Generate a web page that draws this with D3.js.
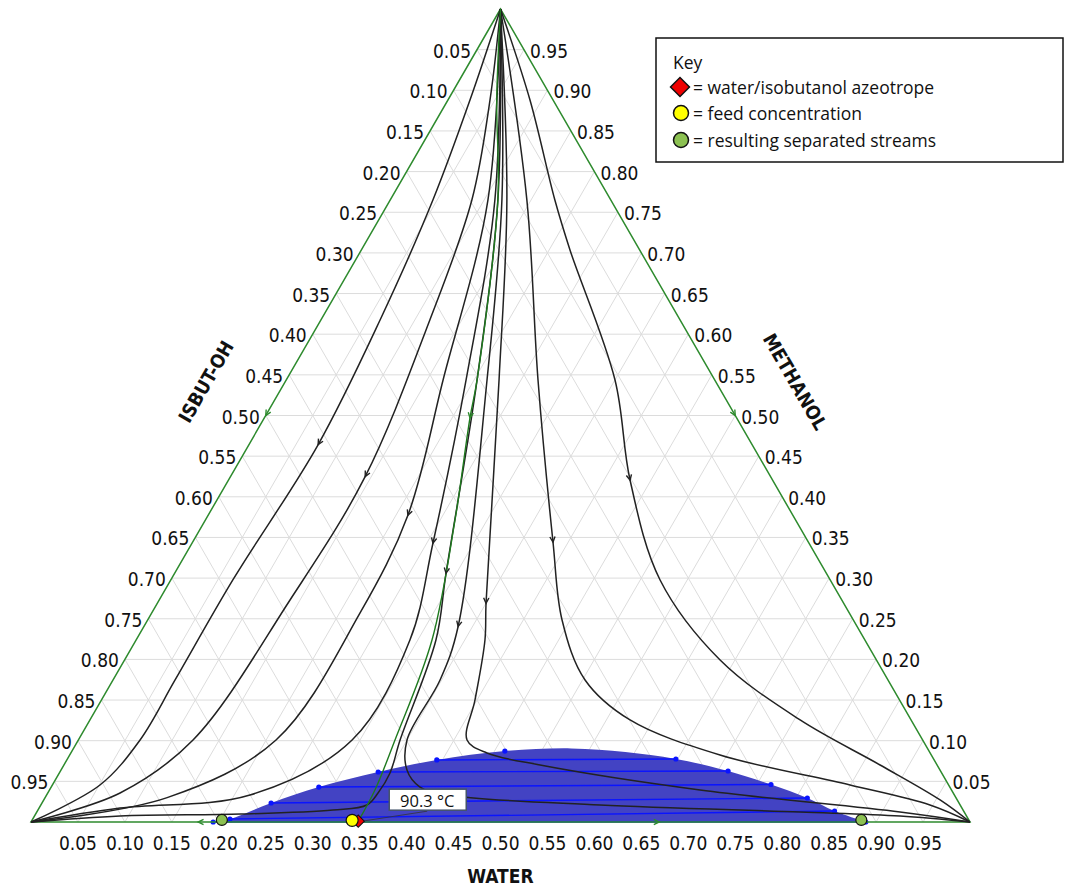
<!DOCTYPE html>
<html>
<head>
<meta charset="utf-8">
<script src="https://cdn.jsdelivr.net/npm/d3@7"></script>
<style>
body { margin: 0; background: #fff; }
svg text { font-family: "DejaVu Sans Condensed", "DejaVu Sans", sans-serif; fill: #111; }
.legend text, .tlabel text { font-family: "Open Sans", "Noto Sans", sans-serif; }
</style>
</head>
<body>
<div id="maincontent"></div>
<script>
// compositions are [water, methanol]; isobutanol = 1 - water - methanol
const tickValues = d3.range(1, 20).map(k => k / 20);
const titleBottom = "WATER", titleLeft = "ISBUT-OH", titleRight = "METHANOL";

const azeotrope = [0.348, 0.001];
const feed = [0.341, 0.002];
const separated = [[0.202, 0.0025], [0.883, 0.0025]];
const azeoTemp = "90.3 °C";

// liquid-liquid envelope, dots on each side (tie lines pair by index)
const envLeft = [[0.194, 0], [0.21, 0.0037], [0.244, 0.0234], [0.285, 0.043], [0.339, 0.0615], [0.394, 0.0763], [0.461, 0.0873]];
const envTop = [[0.53, 0.0905], [0.59, 0.086]];
const envRight = [[0.889, 0], [0.849, 0.0135], [0.812, 0.0295], [0.765, 0.0461], [0.711, 0.0627], [0.648, 0.0775]];

// distillation boundary (methanol -> azeotrope)
const boundary = [[0, 1], [0.052, 0.888], [0.1147, 0.765], [0.2032, 0.5437], [0.219, 0.497], [0.2658, 0.3715], [0.3151, 0.2239], [0.3372, 0.1009], [0.3466, 0.0394], [0.348, 0]];

// residue curves, all leaving the methanol vertex
const curveA = [[0, 1], [0.0235, 0.888], [0.0455, 0.765], [0.063, 0.6175], [0.0737, 0.4637], [0.0661, 0.2977], [0.0661, 0.1747], [0.0657, 0.1009], [0.0507, 0.0455], [0, 0]];
const curveB = [[0, 1], [0.0448, 0.888], [0.087, 0.765], [0.116, 0.6175], [0.1435, 0.4244], [0.1393, 0.2731], [0.1221, 0.1009], [0.077, 0.0357], [0, 0]];
const curveC = [[0, 1], [0.1041, 0.765], [0.167, 0.5437], [0.2127, 0.3776], [0.2219, 0.2571], [0.2105, 0.1009], [0.13, 0.03], [0, 0]];
const curveD = [[0, 1], [0.1115, 0.765], [0.1915, 0.5437], [0.2565, 0.3432], [0.2916, 0.2239], [0.2915, 0.1009], [0.2166, 0.0332], [0.0862, 0.0172], [0, 0]];
const curveE = [[0, 1], [0.1147, 0.765], [0.2032, 0.5437], [0.2889, 0.3063], [0.3193, 0.2239], [0.3426, 0.1009], [0.3522, 0.0603], [0.3517, 0.0357], [0.3473, 0.0209], [0.3142, 0.0148], [0.2187, 0.0098], [0.0911, 0.0074], [0, 0]];
const curveF = [[0, 1], [0.119, 0.765], [0.2138, 0.5437], [0.3348, 0.2399], [0.3483, 0.1747], [0.35, 0.1009], [0.3684, 0.064], [0.3928, 0.043], [0.4264, 0.0332], [0.5955, 0.0209], [0.8128, 0.0123], [0.9218, 0.0074], [1, 0]];
const curveG = [[0, 1], [0.1243, 0.765], [0.2266, 0.5437], [0.3499, 0.2694], [0.3715, 0.2239], [0.3978, 0.1501], [0.4139, 0.1009], [0.4432, 0.0849], [0.5071, 0.0701], [0.6928, 0.0394], [0.9193, 0.0123], [1, 0]];
const curveH = [[0, 1], [0.1456, 0.765], [0.2681, 0.5437], [0.3837, 0.3444], [0.4413, 0.2485], [0.5027, 0.1747], [0.5752, 0.1255], [0.6926, 0.0824], [0.8495, 0.0455], [0.9469, 0.0209], [1, 0]];
const curveI = [[0, 1], [0.0874, 0.888], [0.1754, 0.765], [0.2222, 0.7036], [0.3501, 0.5437], [0.4276, 0.4207], [0.5211, 0.2977], [0.6342, 0.1993], [0.7563, 0.1255], [0.8692, 0.0701], [0.9546, 0.0271], [1, 0]];
const residueCurves = [curveA, curveB, curveC, curveD, curveE, curveF, curveG, curveH, curveI];
// where the direction arrow sits on each curve
const curveArrows = [[0.0737, 0.4637], [0.1435, 0.4244], [0.2127, 0.3776], [0.2565, 0.3432], [0.2889, 0.3063], [0.3348, 0.2399], [0.3499, 0.2694], [0.3837, 0.3444], [0.4276, 0.4207]];
const boundaryArrow = [0.219, 0.497];
// arrows on the triangle edges: position, vertex it points to
const edgeArrows = [[[0, 0.5], [0, 0]], [[0.5, 0.5], [1, 0]], [[0.178, 0], [0, 0]], [[0.669, 0], [1, 0]]];

const legendItems = ["= water/isobutanol azeotrope", "= feed concentration", "= resulting separated streams"];

const width = 1065, height = 886;
const green = "#2e8b2e";

const svg = d3.select("#maincontent").append("svg")
    .attr("width", width)
    .attr("height", height);

const xScale = d3.scaleLinear().domain([0, 1]).range([31, 970]);
const yScale = d3.scaleLinear().domain([0, 1]).range([822, 9]);
const proj = c => [xScale(c[0] + c[1] / 2), yScale(c[1])];

const line = d3.line()
    .x(d => proj(d)[0])
    .y(d => proj(d)[1]);
const smooth = d3.line()
    .x(d => proj(d)[0])
    .y(d => proj(d)[1])
    .curve(d3.curveCatmullRom.alpha(0.5));

// grid
const grid = svg.append("g").attr("class", "grid");
tickValues.forEach(v => {
    [[[0, v], [1 - v, v]], [[v, 0], [v, 1 - v]], [[0, 1 - v], [1 - v, 0]]].forEach(seg => {
        grid.append("path")
            .attr("d", line(seg))
            .attr("stroke", "#dcdcdc")
            .attr("stroke-width", 1)
            .attr("fill", "none");
    });
});

// two-liquid region
const envOutline = envLeft.concat(envTop, envRight.slice().reverse());
svg.append("path")
    .attr("d", smooth(envOutline) + "Z")
    .attr("fill", "#4343c3")
    .attr("stroke", "none");

envRight.forEach((r, i) => {
    svg.append("path")
        .attr("d", line([envLeft[i], r]))
        .attr("stroke", "#0a14ff")
        .attr("stroke-width", 1.4)
        .attr("fill", "none");
});
svg.selectAll(".envdot")
    .data(envLeft.concat(envRight))
    .enter().append("circle")
    .attr("class", "envdot")
    .attr("cx", d => proj(d)[0])
    .attr("cy", d => proj(d)[1])
    .attr("r", 2.6)
    .attr("fill", "#0a14ff");

// triangle edges
svg.append("path")
    .attr("d", line([[0, 1], [0, 0], [1, 0]]) + "Z")
    .attr("stroke", green)
    .attr("stroke-width", 1.5)
    .attr("fill", "none");

// residue curves
const curvePaths = residueCurves.map(c => svg.append("path")
    .attr("d", smooth(c))
    .attr("stroke", "#222")
    .attr("stroke-width", 1.5)
    .attr("fill", "none"));

const boundaryPath = svg.append("path")
    .attr("d", smooth(boundary))
    .attr("stroke", "#1f7a1f")
    .attr("stroke-width", 1.4)
    .attr("fill", "none");

function drawArrow(p, angle, color) {
    const a = 6, s = 0.45;
    const back1 = [p[0] - a * Math.cos(angle - s), p[1] - a * Math.sin(angle - s)];
    const back2 = [p[0] - a * Math.cos(angle + s), p[1] - a * Math.sin(angle + s)];
    svg.append("path")
        .attr("d", `M${back1}L${p}L${back2}`)
        .attr("stroke", color)
        .attr("stroke-width", 1.4)
        .attr("fill", "none");
}

function arrowOnPath(node, comp, color) {
    const target = proj(comp);
    const total = node.getTotalLength();
    let best = 0, bestD = Infinity;
    for (let l = 0; l <= total; l += 1) {
        const pt = node.getPointAtLength(l);
        const dd = (pt.x - target[0]) ** 2 + (pt.y - target[1]) ** 2;
        if (dd < bestD) { bestD = dd; best = l; }
    }
    const p0 = node.getPointAtLength(Math.max(0, best - 2));
    const p1 = node.getPointAtLength(Math.min(total, best + 2));
    const pm = node.getPointAtLength(best);
    drawArrow([pm.x, pm.y], Math.atan2(p1.y - p0.y, p1.x - p0.x), color);
}

curvePaths.forEach((p, i) => arrowOnPath(p.node(), curveArrows[i], "#222"));
arrowOnPath(boundaryPath.node(), boundaryArrow, green);

edgeArrows.forEach(([at, to]) => {
    const p = proj(at), q = proj(to);
    drawArrow(p, Math.atan2(q[1] - p[1], q[0] - p[0]), green);
});

// tick labels
const labels = svg.append("g").style("font-size", "19px");
tickValues.forEach(v => {
    const l = proj([0, 1 - v]);
    labels.append("text")
        .attr("x", l[0] - 6).attr("y", l[1] + 1)
        .attr("text-anchor", "end")
        .attr("dominant-baseline", "central")
        .text(v.toFixed(2));
    const r = proj([1 - v, v]);
    labels.append("text")
        .attr("x", r[0] + 6).attr("y", r[1] + 1)
        .attr("dominant-baseline", "central")
        .text(v.toFixed(2));
    const b = proj([v, 0]);
    labels.append("text")
        .attr("x", b[0]).attr("y", b[1] + 21)
        .attr("text-anchor", "middle")
        .attr("dominant-baseline", "central")
        .text(v.toFixed(2));
});

// axis titles
const titles = svg.append("g").style("font-size", "19px").style("font-weight", "bold");
const mb = proj([0.5, 0]);
titles.append("text")
    .attr("x", mb[0]).attr("y", mb[1] + 54)
    .attr("text-anchor", "middle")
    .attr("dominant-baseline", "central")
    .text(titleBottom);
const ml = proj([0, 0.5]);
titles.append("text")
    .attr("transform", `translate(${ml[0] - 60},${ml[1] - 34}) rotate(-60)`)
    .attr("text-anchor", "middle")
    .attr("dominant-baseline", "central")
    .text(titleLeft);
const mr = proj([0.5, 0.5]);
titles.append("text")
    .attr("transform", `translate(${mr[0] + 60},${mr[1] - 34}) rotate(60)`)
    .attr("text-anchor", "middle")
    .attr("dominant-baseline", "central")
    .text(titleRight);

// azeotrope temperature label
const az = proj(azeotrope);
const tl = svg.append("g").attr("class", "tlabel");
tl.append("line")
    .attr("x1", az[0] + 4).attr("y1", az[1])
    .attr("x2", az[0] + 69).attr("y2", az[1] - 10)
    .attr("stroke", "#333").attr("stroke-width", 0.8);
tl.append("rect")
    .attr("x", az[0] + 31).attr("y", az[1] - 32)
    .attr("width", 77).attr("height", 21)
    .attr("fill", "#fff")
    .attr("stroke", "#44546a").attr("stroke-width", 1.5);
tl.append("text")
    .attr("x", az[0] + 69).attr("y", az[1] - 21)
    .attr("text-anchor", "middle")
    .attr("dominant-baseline", "central")
    .style("font-size", "16.5px")
    .text(azeoTemp);

// state points
const diamond = d3.symbol().type(d3.symbolSquare);
svg.append("path")
    .attr("d", diamond.size(75)())
    .attr("transform", `translate(${az}) rotate(45)`)
    .attr("fill", "#ee0000").attr("stroke", "#111").attr("stroke-width", 1);
svg.append("circle")
    .attr("cx", proj(feed)[0]).attr("cy", proj(feed)[1]).attr("r", 6)
    .attr("fill", "#ffff00").attr("stroke", "#111").attr("stroke-width", 1.2);
svg.selectAll(".sep")
    .data(separated)
    .enter().append("circle")
    .attr("class", "sep")
    .attr("cx", d => proj(d)[0]).attr("cy", d => proj(d)[1]).attr("r", 5.5)
    .attr("fill", "#8cc152").attr("stroke", "#111").attr("stroke-width", 1.2);

// legend
const legend = svg.append("g").attr("class", "legend");
legend.append("rect")
    .attr("x", 656).attr("y", 38).attr("width", 407).attr("height", 124)
    .attr("fill", "#fff").attr("stroke", "#111").attr("stroke-width", 1.5);
legend.append("text")
    .attr("x", 673).attr("y", 62)
    .attr("dominant-baseline", "central")
    .style("font-size", "17.5px")
    .text("Key");
const rowY = [87, 113, 140];
legend.append("path")
    .attr("d", diamond.size(180)())
    .attr("transform", `translate(680,${rowY[0]}) rotate(45)`)
    .attr("fill", "#ee0000").attr("stroke", "#111").attr("stroke-width", 1.5);
legend.append("circle")
    .attr("cx", 681).attr("cy", rowY[1]).attr("r", 7.5)
    .attr("fill", "#ffff00").attr("stroke", "#111").attr("stroke-width", 1.5);
legend.append("circle")
    .attr("cx", 681).attr("cy", rowY[2]).attr("r", 7.5)
    .attr("fill", "#8cc152").attr("stroke", "#111").attr("stroke-width", 1.5);
legend.selectAll(".item")
    .data(legendItems)
    .enter().append("text")
    .attr("class", "item")
    .attr("x", 693).attr("y", (d, i) => rowY[i])
    .attr("dominant-baseline", "central")
    .style("font-size", "17.5px")
    .text(d => d);
</script>
</body>
</html>
